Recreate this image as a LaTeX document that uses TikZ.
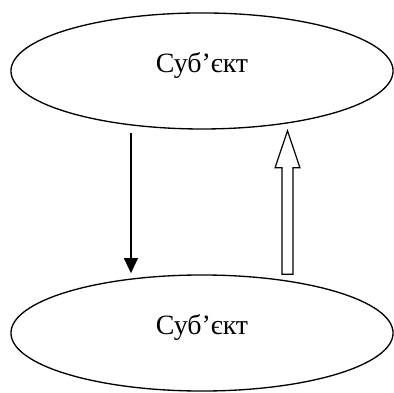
\documentclass[tikz,border=0pt]{standalone}
\usepackage{fontspec}
\setmainfont{Liberation Serif}
\usepackage{tikz}
\usetikzlibrary{shapes,arrows.meta,positioning,calc}

\tikzset{
    subject/.style={draw, ellipse, line width=1pt, inner sep=0pt,
        minimum width=10.11cm, minimum height=3.07cm,
        font=\fontsize{21}{24}\selectfont, text depth=0.45cm},
    flow/.style={line width=1pt, -{Triangle[length=0.4cm, width=0.37cm]}},
    hollow/.style={draw, line width=0.9pt, fill=white}
}

\begin{document}
\begin{tikzpicture}
    \useasboundingbox (0,0) rectangle (10.425,10.372);

    % Two subjects
    \node[subject] (top) at (5.345,8.494) {Суб’єкт};
    \node[subject] (bottom) at (5.345,1.561) {Суб’єкт};

    % Thin arrow going down
    \draw[flow] ($(top.south)+(-1.88,-0.08)$) -- ($(bottom.north)+(-1.88,0.03)$);

    % Block arrow going up
    \coordinate (upbase) at ($(bottom.north)+(2.262,0)$);
    \coordinate (uptip) at ($(top.south)+(2.262,-0.03)$);
    \draw[hollow] ($(upbase)+(-0.145,0)$) -- ($(uptip)+(-0.145,-0.98)$)
        -- ($(uptip)+(-0.33,-0.98)$) -- (uptip) -- ($(uptip)+(0.33,-0.98)$)
        -- ($(uptip)+(0.145,-0.98)$) -- ($(upbase)+(0.145,0)$) -- cycle;
\end{tikzpicture}
\end{document}
